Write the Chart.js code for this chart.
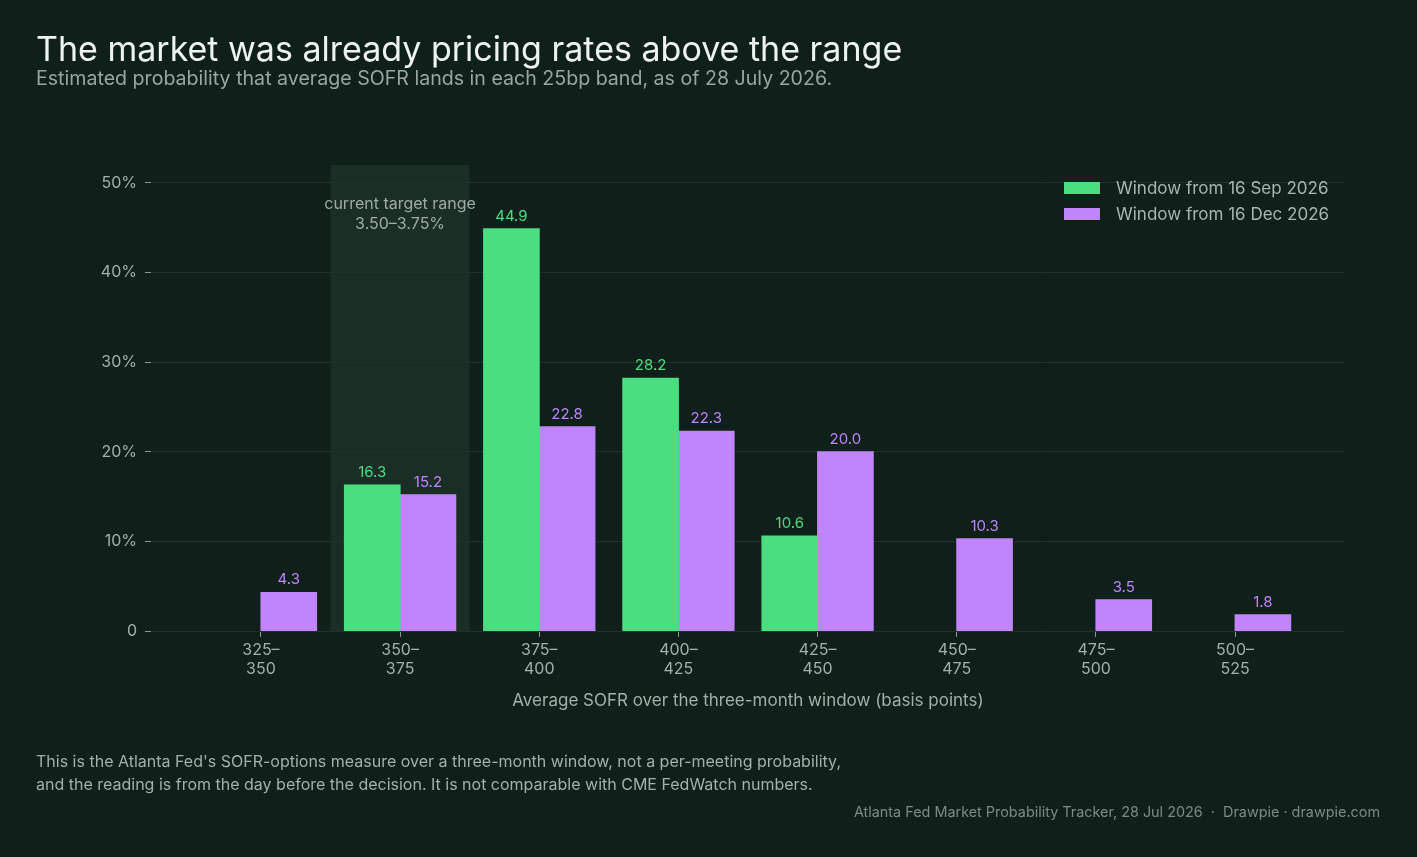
<!DOCTYPE html>
<html>
<head>
<meta charset="utf-8">
<script src="https://cdn.jsdelivr.net/npm/chart.js@4.4.1/dist/chart.umd.min.js"></script>
<style>
  html, body { margin: 0; padding: 0; background: #0f1f19; width: 1417px; height: 857px; overflow: hidden; font-family: Inter, "Liberation Sans", Arial, sans-serif; }
  #wrap { position: absolute; left: 0; top: 0; width: 1417px; height: 857px; }
  canvas { position: absolute; left: 0; top: 0; }
  .t { position: absolute; white-space: nowrap; line-height: 1; }
  #title { left: 36px; top: 31.5px; font-size: 34px; color: #eef3f0; }
  #subtitle { left: 36px; top: 69px; font-size: 19.6px; color: #98a69e; }
  #xtitle { left: 151px; width: 1194px; text-align: center; top: 692px; font-size: 17px; color: #a3b0a8; }
  #note { left: 36px; top: 750px; font-size: 16px; line-height: 23px; color: #a3b0a8; }
  #source { right: 37px; top: 805px; font-size: 14.4px; color: #7d8a83; }
  #legend { position: absolute; left: 1064px; top: 175px; font-size: 17px; color: #a9b6ae; }
  .li { height: 26px; display: flex; align-items: center; }
  .sw { width: 36px; height: 12px; margin-right: 16px; }
</style>
</head>
<body>
<div id="wrap">
  <canvas id="c" width="1417" height="857"></canvas>
  <div class="t" id="title">The market was already pricing rates above the range</div>
  <div class="t" id="subtitle">Estimated probability that average SOFR lands in each 25bp band, as of 28 July 2026.</div>
  <div class="t" id="xtitle">Average SOFR over the three-month window (basis points)</div>
  <div class="t" id="note">This is the Atlanta Fed's SOFR-options measure over a three-month window, not a per-meeting probability,<br>and the reading is from the day before the decision. It is not comparable with CME FedWatch numbers.</div>
  <div class="t" id="source">Atlanta Fed Market Probability Tracker, 28 Jul 2026 &nbsp;·&nbsp; Drawpie · drawpie.com</div>
  <div id="legend"></div>
</div>
<script>
const categories = ['325–350', '350–375', '375–400', '400–425', '425–450', '450–475', '475–500', '500–525'];
const tickLines = [['325–', '350'], ['350–', '375'], ['375–', '400'], ['400–', '425'], ['425–', '450'], ['450–', '475'], ['475–', '500'], ['500–', '525']];
const seriesNames = ['Window from 16 Sep 2026', 'Window from 16 Dec 2026'];
const sepValues = [null, 16.3, 44.9, 28.2, 10.6, null, null, null];
const decValues = [4.3, 15.2, 22.8, 22.3, 20.0, 10.3, 3.5, 1.8];
const yTicks = [0, 10, 20, 30, 40, 50];
const targetIndex = 1;
const targetLabel = ['current target range', '3.50–3.75%'];

const GREEN = '#4ade80';
const PURPLE = '#c084fc';
const GRID = '#203229';
const TICK = '#8b9991';
const LABEL = '#a3b0a8';
const FONT = 'Inter, "Liberation Sans", Arial, sans-serif';

const legend = document.getElementById('legend');
[[seriesNames[0], GREEN], [seriesNames[1], PURPLE]].forEach(([n, c]) => {
  const d = document.createElement('div');
  d.className = 'li';
  d.innerHTML = '<span class="sw" style="background:' + c + '"></span><span>' + n + '</span>';
  legend.appendChild(d);
});

const toPoints = arr => arr.map((v, i) => ({ x: i, y: v }));

const bandPlugin = {
  id: 'band',
  beforeDraw(chart) {
    const { ctx, scales } = chart;
    const x0 = scales.x.getPixelForValue(targetIndex - 0.5);
    const x1 = scales.x.getPixelForValue(targetIndex + 0.5);
    const yTop = scales.y.getPixelForValue(scales.y.max);
    const yBot = scales.y.getPixelForValue(0);
    ctx.save();
    ctx.fillStyle = '#1b2e25';
    ctx.fillRect(x0, yTop, x1 - x0, yBot - yTop);
    ctx.restore();
  },
  afterDraw(chart) {
    const { ctx, scales } = chart;
    const xc = scales.x.getPixelForValue(targetIndex);
    const yTop = scales.y.getPixelForValue(scales.y.max);
    ctx.save();
    ctx.fillStyle = '#9eaba3';
    ctx.font = '16px ' + FONT;
    ctx.textAlign = 'center';
    ctx.textBaseline = 'alphabetic';
    ctx.fillText(targetLabel[0], xc, yTop + 44);
    ctx.fillText(targetLabel[1], xc, yTop + 64);
    ctx.restore();
  }
};

const valueLabels = {
  id: 'valueLabels',
  afterDatasetsDraw(chart) {
    const { ctx } = chart;
    ctx.save();
    ctx.font = '15px ' + FONT;
    ctx.textAlign = 'center';
    ctx.textBaseline = 'alphabetic';
    chart.data.datasets.forEach((ds, di) => {
      const meta = chart.getDatasetMeta(di);
      ctx.fillStyle = ds.backgroundColor;
      meta.data.forEach((bar, i) => {
        const v = ds.data[i].y;
        if (v === null || v === undefined) return;
        ctx.fillText(v.toFixed(1), bar.x, bar.y - 8);
      });
    });
    ctx.restore();
  }
};

new Chart(document.getElementById('c'), {
  type: 'bar',
  data: {
    datasets: [
      { label: seriesNames[0], data: toPoints(sepValues), backgroundColor: GREEN, barPercentage: 1, categoryPercentage: 0.8, inflateAmount: 0.5 },
      { label: seriesNames[1], data: toPoints(decValues), backgroundColor: PURPLE, barPercentage: 1, categoryPercentage: 0.8, inflateAmount: 0.5 }
    ]
  },
  options: {
    responsive: false,
    animation: false,
    devicePixelRatio: 1,
    layout: { padding: { left: 0, right: 72, top: 165, bottom: 166 } },
    plugins: { legend: { display: false }, tooltip: { enabled: false } },
    scales: {
      x: {
        type: 'linear',
        offset: false,
        min: -0.79,
        max: 7.79,
        afterBuildTicks(scale) { scale.ticks = categories.map((_, i) => ({ value: i })); },
        afterFit(scale) { scale.height = 60; },
        border: { display: false },
        grid: { offset: false, drawOnChartArea: false, tickLength: 6, tickColor: TICK, color: TICK },
        ticks: {
          color: LABEL,
          font: { family: FONT, size: 16, lineHeight: 1.1875 },
          padding: 4,
          maxRotation: 0,
          autoSkip: false,
          callback: v => tickLines[v] || ''
        }
      },
      y: {
        min: 0,
        max: 52,
        afterBuildTicks(scale) { scale.ticks = yTicks.map(v => ({ value: v })); },
        afterFit(scale) { scale.width = 151; },
        border: { display: false },
        grid: { color: GRID, tickColor: TICK, tickLength: 6, lineWidth: 1 },
        ticks: {
          color: LABEL,
          font: { family: FONT, size: 16 },
          padding: 8,
          callback: v => v === 0 ? '0' : v + '%'
        }
      }
    }
  },
  plugins: [bandPlugin, valueLabels]
});
</script>
</body>
</html>
